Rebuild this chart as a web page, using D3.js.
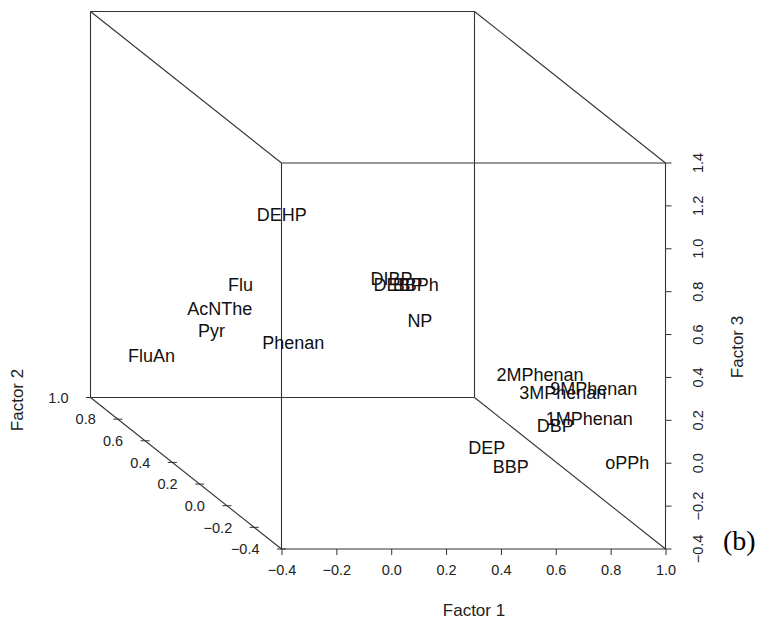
<!DOCTYPE html>
<html lang="en">
<head>
<meta charset="utf-8">
<title>Factor scores</title>
<script src="https://d3js.org/d3.v7.min.js"></script>
<style>
  body { margin: 0; background: #fff; }
  text { font-family: "Liberation Sans", Arial, sans-serif; }
</style>
</head>
<body>
<script>

// compound labels and their three factor scores
var labels  = ["DEHP", "Flu", "AcNThe", "Pyr", "Phenan", "FluAn",
               "DIBP", "DEBP", "BBPh", "NP",
               "2MPhenan", "3MPhenan", "9MPhenan", "1MPhenan", "DBP",
               "DEP", "BBP", "oPPh"];
var factor1 = [0.049, -0.052, -0.078, -0.108, 0.041, -0.277,
               0.349, 0.373, 0.438, 0.403,
               0.642, 0.725, 0.788, 0.772, 0.698,
               0.498, 0.585, 0.910];
var factor2 = [0.5, 0.6, 0.7, 0.7, 0.4, 0.8,
               0.3, 0.3, 0.3, 0.2,
               -0.2, -0.2, -0.3, -0.3, -0.2,
               -0.1, -0.1, -0.3];
var factor3 = [0.705, 0.328, 0.166, 0.064, 0.161, -0.103,
               0.507, 0.479, 0.479, 0.362,
               0.315, 0.227, 0.296, 0.156, 0.073,
               -0.080, -0.166, -0.049];

// axis ticks
var ticks1 = [-0.4, -0.2, 0.0, 0.2, 0.4, 0.6, 0.8, 1.0];
var ticks2 = [-0.4, -0.2, 0.0, 0.2, 0.4, 0.6, 0.8, 1.0];
var ticks3 = [-0.4, -0.2, 0.0, 0.2, 0.4, 0.6, 0.8, 1.0, 1.2, 1.4];

var width = 759,
    height = 624;

var fmt = d3.format(".1f");

//scales: x across, z up, factor 2 as depth going back-left
var x = d3.scaleLinear().domain([-0.4, 1.0]).range([281.5, 665.5]);
var z = d3.scaleLinear().domain([-0.4, 1.4]).range([549, 163]);
var depth = d3.scaleLinear().domain([-0.4, 1.0]).range([0, 1]);
var shiftX = -191,
    shiftY = -151.5;

function px(a, b) { return x(a) + depth(b) * shiftX; }
function py(b, c) { return z(c) + depth(b) * shiftY; }

var svg = d3.select("body").append("svg")
    .attr("width", width)
    .attr("height", height);

//box edges
var xd = x.domain(), yd = depth.domain(), zd = z.domain();
var corners = [];
xd.forEach(function(a){ yd.forEach(function(b){ zd.forEach(function(c){
    corners.push([a, b, c]);
}); }); });
var edges = [];
corners.forEach(function(p, i){
    corners.forEach(function(q, j){
        if (j <= i) return;
        var diff = 0;
        for (var k = 0; k < 3; k++) if (p[k] != q[k]) diff++;
        if (diff == 1) edges.push([p, q]);
    });
});

svg.append("g").selectAll("line")
    .data(edges)
    .enter().append("line")
    .attr("x1", function(d){ return px(d[0][0], d[0][1]); })
    .attr("y1", function(d){ return py(d[0][1], d[0][2]); })
    .attr("x2", function(d){ return px(d[1][0], d[1][1]); })
    .attr("y2", function(d){ return py(d[1][1], d[1][2]); })
    .attr("stroke", "#333")
    .attr("stroke-width", 1.1);

//factor 1 axis (bottom)
var gx = svg.append("g")
    .attr("transform", "translate(0," + z(-0.4) + ")")
    .call(d3.axisBottom(x).tickValues(ticks1).tickFormat(fmt).tickSize(6).tickPadding(10));
gx.select(".domain").remove();
gx.selectAll("line").attr("stroke", "#333");
gx.selectAll("text").attr("font-size", "14.5px").attr("fill", "#222")
    .style("font-family", "'Liberation Sans', Arial, sans-serif");

//factor 3 axis (right, labels turned)
var gz = svg.append("g")
    .attr("transform", "translate(" + x(1.0) + ",0)");
gz.selectAll("line")
    .data(ticks3)
    .enter().append("line")
    .attr("x1", 0).attr("x2", 6)
    .attr("y1", function(d){ return z(d); })
    .attr("y2", function(d){ return z(d); })
    .attr("stroke", "#333");
gz.selectAll("text")
    .data(ticks3)
    .enter().append("text")
    .attr("transform", function(d){ return "translate(37," + z(d) + ") rotate(-90)"; })
    .attr("text-anchor", "middle")
    .attr("font-size", "14.5px")
    .attr("fill", "#222")
    .text(fmt);

//factor 2 axis (diagonal)
var gy = svg.append("g");
gy.selectAll("line")
    .data(ticks2)
    .enter().append("line")
    .attr("x1", function(d){ return px(-0.4, d) - 4.5; })
    .attr("x2", function(d){ return px(-0.4, d) + 4.5; })
    .attr("y1", function(d){ return py(d, -0.4); })
    .attr("y2", function(d){ return py(d, -0.4); })
    .attr("stroke", "#333");
gy.selectAll("text")
    .data(ticks2)
    .enter().append("text")
    .attr("x", function(d){ return px(-0.4, d) - 22; })
    .attr("y", function(d){ return py(d, -0.4); })
    .attr("dy", "0.36em")
    .attr("text-anchor", "end")
    .attr("font-size", "14.5px")
    .attr("fill", "#222")
    .text(fmt);

//axis titles
svg.append("text")
    .attr("x", 474).attr("y", 616)
    .attr("text-anchor", "middle")
    .attr("font-size", "17px")
    .attr("fill", "#222")
    .text("Factor 1");
svg.append("text")
    .attr("transform", "translate(23,400) rotate(-90)")
    .attr("text-anchor", "middle")
    .attr("font-size", "17px")
    .attr("fill", "#222")
    .text("Factor 2");
svg.append("text")
    .attr("transform", "translate(743,347) rotate(-90)")
    .attr("text-anchor", "middle")
    .attr("font-size", "17px")
    .attr("fill", "#222")
    .text("Factor 3");

//point labels
svg.append("g").selectAll("text")
    .data(labels)
    .enter().append("text")
    .attr("x", function(d, i){ return px(factor1[i], factor2[i]); })
    .attr("y", function(d, i){ return py(factor2[i], factor3[i]); })
    .attr("dy", "0.36em")
    .attr("text-anchor", "middle")
    .attr("font-size", "18px")
    .attr("fill", "#111")
    .text(function(d){ return d; });

//panel tag
svg.append("text")
    .attr("x", 723).attr("y", 550)
    .style("font-family", "'Liberation Serif', 'Times New Roman', serif")
    .attr("font-size", "28px")
    .attr("fill", "#000")
    .text("(b)");

</script>
</body>
</html>
